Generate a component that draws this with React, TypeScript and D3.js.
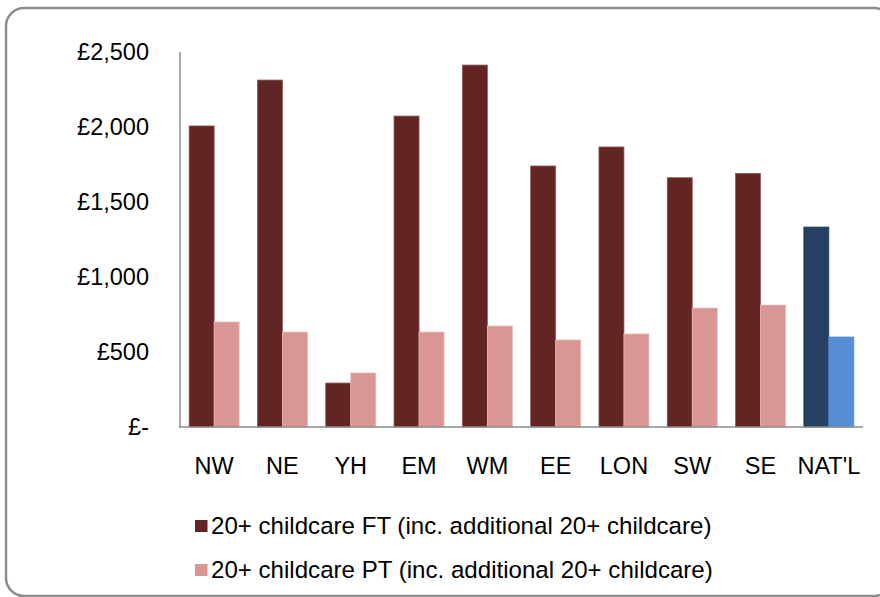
import React from "react";
import * as d3 from "d3";

const categories = ["NW", "NE", "YH", "EM", "WM", "EE", "LON", "SW", "SE", "NAT'L"];
const ftValues = [2007, 2313, 293, 2073, 2413, 1740, 1867, 1662, 1691, 1333];
const ptValues = [700, 633, 360, 633, 673, 580, 620, 793, 813, 600];
const seriesKeys = ["FT", "PT"];
const seriesLabels = [
  "20+ childcare FT (inc. additional 20+ childcare)",
  "20+ childcare PT (inc. additional 20+ childcare)",
];
const yTicks = [0, 500, 1000, 1500, 2000, 2500];
const highlightCategory = "NAT'L";

const W = 880;
const H = 597;
const FONT = "'Liberation Sans', Arial, sans-serif";

const colors: Record<string, { fill: string; stroke: string }> = {
  FT: { fill: "#632523", stroke: "#8f5a58" },
  PT: { fill: "#D99694", stroke: "#e8b9b7" },
  FTnat: { fill: "#254061", stroke: "#254061" },
  PTnat: { fill: "#558ED5", stroke: "#558ED5" },
};

const fmt = (v: number) => (v === 0 ? "£-" : "£" + d3.format(",")(v));

export default function App() {
  const x = d3
    .scaleBand<string>()
    .domain(categories)
    .range([180, 863])
    .paddingInner(0.268)
    .paddingOuter(0.134);
  const xs = d3.scaleBand<string>().domain(seriesKeys).range([0, x.bandwidth()]).padding(0);
  const y = d3.scaleLinear().domain([0, 2500]).range([427, 52]);

  const data = categories.map((c, i) => ({ c, FT: ftValues[i], PT: ptValues[i] }));

  return (
    <svg
      width={W}
      height={H}
      style={{ position: "absolute", left: 0, top: 0, background: "#fff" }}
      fontFamily={FONT}
    >
      <rect x={6} y={8} width={886} height={588} rx={18} ry={18} fill="#fff" stroke="#8c8c8c" strokeWidth={2.5} />

      {/* y tick labels */}
      {yTicks.map((t) => (
        <text key={t} x={149} y={y(t)} dy="0.35em" textAnchor="end" fontSize={23.5} fill="#000">
          {fmt(t)}
        </text>
      ))}

      {/* bars */}
      {data.map((d) => (
        <g key={d.c} transform={`translate(${x(d.c)},0)`}>
          {seriesKeys.map((k) => {
            const v = (d as any)[k] as number;
            const col = d.c === highlightCategory ? colors[k + "nat"] : colors[k];
            return (
              <rect
                key={k}
                x={xs(k)!}
                y={y(v)}
                width={xs.bandwidth()}
                height={y(0) - y(v)}
                fill={col.fill}
                stroke={col.stroke}
                strokeWidth={0.8}
              />
            );
          })}
        </g>
      ))}

      {/* axes */}
      <line x1={180} x2={180} y1={y(2500)} y2={y(0)} stroke="#8c8c8c" strokeWidth={1.5} />
      <line x1={179} x2={863} y1={y(0)} y2={y(0)} stroke="#8c8c8c" strokeWidth={1.5} />

      {/* x labels */}
      {categories.map((c) => (
        <text key={c} x={x(c)! + x.bandwidth() / 2} y={474} textAnchor="middle" fontSize={23.5} fill="#000">
          {c}
        </text>
      ))}

      {/* legend */}
      {seriesKeys.map((k, i) => (
        <g key={k} transform={`translate(195, ${526 + i * 44})`}>
          <rect x={0} y={-6} width={12.5} height={12} fill={colors[k].fill} />
          <text x={16} y={0} dy="0.35em" fontSize={24.1} fill="#000">
            {seriesLabels[i]}
          </text>
        </g>
      ))}
    </svg>
  );
}
